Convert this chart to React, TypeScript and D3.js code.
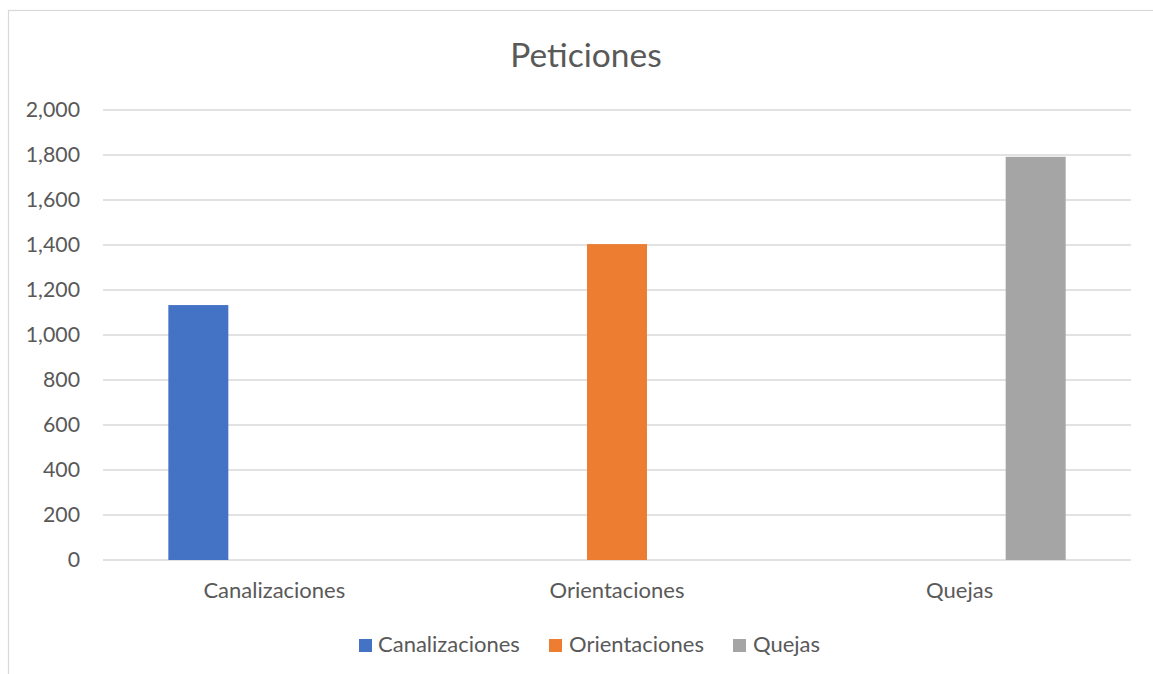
import React from "react";
import * as d3 from "d3";

const categories = ["Canalizaciones", "Orientaciones", "Quejas"];
const series = ["Canalizaciones", "Orientaciones", "Quejas"];
const values = [1133, 1404, 1792];
const colors = ["#4472C4", "#ED7D31", "#A5A5A5"];
const yTicks = [0, 200, 400, 600, 800, 1000, 1200, 1400, 1600, 1800, 2000];
const title = "Peticiones";

const W = 1153;
const H = 674;
const FONT = "Lato, 'Open Sans', sans-serif";
const TEXT = "#595959";

export default function App() {
  const plotLeft = 103;
  const plotRight = 1131;
  const plotTop = 110;
  const plotBottom = 560;

  const y = d3.scaleLinear().domain([0, 2000]).range([plotBottom, plotTop]);
  const x0 = d3.scaleBand<string>().domain(categories).range([plotLeft, plotRight]).padding(0);
  const cw = x0.bandwidth();
  const x1 = d3
    .scaleBand<string>()
    .domain(series)
    .range([cw / 2 - 114, cw / 2 + 114])
    .paddingInner(16 / 76)
    .paddingOuter(8 / 76);

  const legendItems = [
    { name: series[0], sq: 359, tx: 378 },
    { name: series[1], sq: 549, tx: 569 },
    { name: series[2], sq: 733, tx: 753 },
  ];

  return (
    <svg
      width={W}
      height={H}
      style={{ position: "absolute", left: 0, top: 0, display: "block", background: "#fff" }}
      fontFamily={FONT}
    >
      <rect x={8.5} y={10.5} width={W + 10} height={H + 10} fill="#fff" stroke="#d9d9d9" strokeWidth={1.2} />
      <text x={586} y={67} textAnchor="middle" fontSize={33.5} fill={TEXT}>
        {title}
      </text>
      {yTicks.map((t) => (
        <g key={t}>
          <line x1={plotLeft} x2={plotRight} y1={y(t)} y2={y(t)} stroke="#d9d9d9" strokeWidth={1.5} />
          <text x={80} y={y(t)} dy="0.35em" textAnchor="end" fontSize={21.3} fill={TEXT}>
            {d3.format(",")(t)}
          </text>
        </g>
      ))}
      {categories.map((c, i) => (
        <g key={c} transform={`translate(${x0(c)},0)`}>
          <rect
            x={x1(series[i])}
            width={x1.bandwidth()}
            y={y(values[i])}
            height={plotBottom - y(values[i])}
            fill={colors[i]}
          />
          <text x={cw / 2} y={598} textAnchor="middle" fontSize={22} fill={TEXT}>
            {c}
          </text>
        </g>
      ))}
      {legendItems.map((d, i) => (
        <g key={d.name}>
          <rect x={d.sq} y={639} width={13} height={13} fill={colors[i]} />
          <text x={d.tx} y={652} fontSize={22} fill={TEXT}>
            {d.name}
          </text>
        </g>
      ))}
    </svg>
  );
}
